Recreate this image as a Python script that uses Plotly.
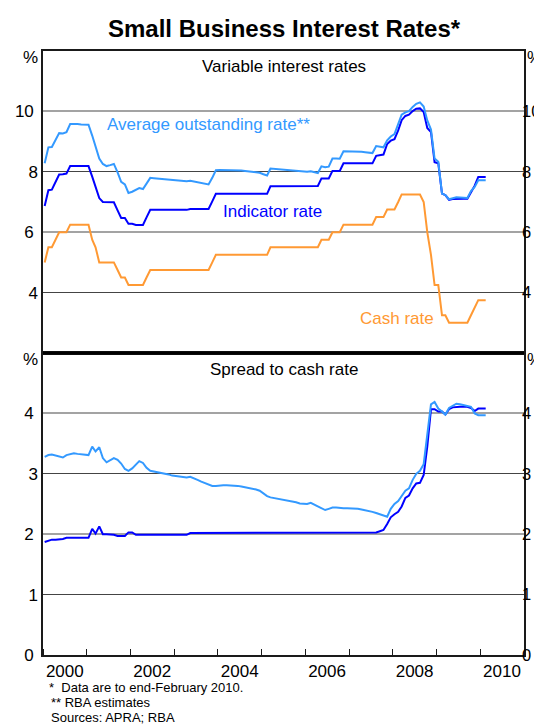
import pandas as pd
import plotly.graph_objects as go

# ---------------- data (monthly, Jan 2000 - Feb 2010) ----------------
month_start = "2000-01-01"
n_months = 122

cash_rate = [
    5.00, 5.50, 5.50, 5.75, 6.00, 6.00, 6.00, 6.25, 6.25, 6.25, 6.25, 6.25,   # 2000
    6.25, 5.75, 5.50, 5.00, 5.00, 5.00, 5.00, 5.00, 4.75, 4.50, 4.50, 4.25,   # 2001
    4.25, 4.25, 4.25, 4.25, 4.50, 4.75, 4.75, 4.75, 4.75, 4.75, 4.75, 4.75,   # 2002
    4.75, 4.75, 4.75, 4.75, 4.75, 4.75, 4.75, 4.75, 4.75, 4.75, 5.00, 5.25,   # 2003
    5.25, 5.25, 5.25, 5.25, 5.25, 5.25, 5.25, 5.25, 5.25, 5.25, 5.25, 5.25,   # 2004
    5.25, 5.25, 5.50, 5.50, 5.50, 5.50, 5.50, 5.50, 5.50, 5.50, 5.50, 5.50,   # 2005
    5.50, 5.50, 5.50, 5.50, 5.75, 5.75, 5.75, 6.00, 6.00, 6.00, 6.25, 6.25,   # 2006
    6.25, 6.25, 6.25, 6.25, 6.25, 6.25, 6.25, 6.50, 6.50, 6.50, 6.75, 6.75,   # 2007
    6.75, 7.00, 7.25, 7.25, 7.25, 7.25, 7.25, 7.25, 7.00, 6.00, 5.25, 4.25,   # 2008
    4.25, 3.25, 3.25, 3.00, 3.00, 3.00, 3.00, 3.00, 3.00, 3.25, 3.50, 3.75,   # 2009
    3.75, 3.75,                                                               # 2010
]

average_outstanding_rate = [
    8.28, 8.81, 8.82, 9.05, 9.28, 9.27, 9.31, 9.58, 9.59, 9.58, 9.57, 9.56,
    9.56, 9.20, 8.87, 8.44, 8.26, 8.19, 8.22, 8.26, 7.98, 7.67, 7.58, 7.30,
    7.34, 7.40, 7.46, 7.43, 7.60, 7.80, 7.79, 7.78, 7.77, 7.76, 7.74, 7.72,
    7.71, 7.70, 7.69, 7.69, 7.70, 7.68, 7.65, 7.62, 7.60, 7.58, 7.80, 8.05,
    8.06, 8.06, 8.06, 8.06, 8.05, 8.05, 8.04, 8.03, 8.02, 8.00, 7.99, 7.97,
    7.92, 7.88, 8.11, 8.10, 8.09, 8.08, 8.07, 8.06, 8.05, 8.03, 8.01, 8.00,
    8.00, 8.02, 7.99, 7.96, 8.18, 8.15, 8.17, 8.44, 8.44, 8.43, 8.68, 8.68,
    8.68, 8.67, 8.67, 8.66, 8.65, 8.64, 8.62, 8.85, 8.83, 8.81, 9.04, 9.17,
    9.25, 9.55, 9.89, 9.97, 10.01, 10.15, 10.25, 10.30, 10.16, 9.70, 9.40, 8.44,
    8.33, 7.28, 7.23, 7.09, 7.13, 7.16, 7.15, 7.14, 7.13, 7.36, 7.50, 7.72,
    7.72, 7.72,
]

indicator_rate = [
    6.87, 7.39, 7.41, 7.66, 7.91, 7.92, 7.94, 8.19, 8.19, 8.19, 8.19, 8.19,
    8.19, 7.84, 7.51, 7.13, 7.00, 7.00, 7.00, 6.99, 6.72, 6.47, 6.47, 6.28,
    6.28, 6.24, 6.24, 6.24, 6.49, 6.74, 6.74, 6.74, 6.74, 6.74, 6.74, 6.74,
    6.74, 6.74, 6.74, 6.74, 6.77, 6.77, 6.77, 6.77, 6.77, 6.77, 7.02, 7.27,
    7.27, 7.27, 7.27, 7.27, 7.27, 7.27, 7.27, 7.27, 7.27, 7.27, 7.27, 7.27,
    7.27, 7.27, 7.52, 7.52, 7.52, 7.52, 7.52, 7.52, 7.52, 7.52, 7.52, 7.52,
    7.52, 7.53, 7.53, 7.53, 7.78, 7.78, 7.78, 8.03, 8.03, 8.03, 8.28, 8.28,
    8.28, 8.28, 8.28, 8.28, 8.28, 8.28, 8.28, 8.53, 8.55, 8.57, 8.92, 9.03,
    9.08, 9.37, 9.71, 9.85, 9.89, 10.01, 10.09, 10.10, 9.98, 9.45, 9.32, 8.32,
    8.28, 7.28, 7.23, 7.07, 7.10, 7.11, 7.11, 7.11, 7.11, 7.34, 7.54, 7.83,
    7.83, 7.83,
]

average_spread = [
    3.28, 3.31, 3.32, 3.30, 3.28, 3.27, 3.31, 3.33, 3.34, 3.33, 3.32, 3.31,
    3.31, 3.45, 3.37, 3.44, 3.26, 3.19, 3.22, 3.26, 3.23, 3.17, 3.08, 3.05,
    3.09, 3.15, 3.21, 3.18, 3.10, 3.05, 3.04, 3.03, 3.02, 3.01, 2.99, 2.97,
    2.96, 2.95, 2.94, 2.94, 2.95, 2.93, 2.90, 2.87, 2.85, 2.83, 2.80, 2.80,
    2.81, 2.81, 2.81, 2.81, 2.80, 2.80, 2.79, 2.78, 2.77, 2.75, 2.74, 2.72,
    2.67, 2.63, 2.61, 2.60, 2.59, 2.58, 2.57, 2.56, 2.55, 2.53, 2.51, 2.50,
    2.50, 2.52, 2.49, 2.46, 2.43, 2.40, 2.42, 2.44, 2.44, 2.43, 2.43, 2.43,
    2.43, 2.42, 2.42, 2.41, 2.40, 2.39, 2.37, 2.35, 2.33, 2.31, 2.29, 2.42,
    2.50, 2.55, 2.64, 2.72, 2.76, 2.90, 3.00, 3.05, 3.16, 3.70, 4.15, 4.19,
    4.08, 4.03, 3.98, 4.09, 4.13, 4.16, 4.15, 4.14, 4.13, 4.11, 4.00, 3.97,
    3.97, 3.97,
]

indicator_spread = [
    1.87, 1.89, 1.91, 1.91, 1.91, 1.92, 1.94, 1.94, 1.94, 1.94, 1.94, 1.94,
    1.94, 2.09, 2.01, 2.13, 2.00, 2.00, 2.00, 1.99, 1.97, 1.97, 1.97, 2.03,
    2.03, 1.99, 1.99, 1.99, 1.99, 1.99, 1.99, 1.99, 1.99, 1.99, 1.99, 1.99,
    1.99, 1.99, 1.99, 1.99, 2.02, 2.02, 2.02, 2.02, 2.02, 2.02, 2.02, 2.02,
    2.02, 2.02, 2.02, 2.02, 2.02, 2.02, 2.02, 2.02, 2.02, 2.02, 2.02, 2.02,
    2.02, 2.02, 2.02, 2.02, 2.02, 2.02, 2.02, 2.02, 2.02, 2.02, 2.02, 2.02,
    2.02, 2.03, 2.03, 2.03, 2.03, 2.03, 2.03, 2.03, 2.03, 2.03, 2.03, 2.03,
    2.03, 2.03, 2.03, 2.03, 2.03, 2.03, 2.03, 2.03, 2.05, 2.07, 2.17, 2.28,
    2.33, 2.37, 2.46, 2.60, 2.64, 2.76, 2.84, 2.85, 2.98, 3.45, 4.07, 4.07,
    4.03, 4.03, 3.98, 4.07, 4.10, 4.11, 4.11, 4.11, 4.11, 4.09, 4.04, 4.08,
    4.08, 4.08,
]

x_tick_years = ["2000", "2002", "2004", "2006", "2008", "2010"]
top_ticks = [4, 6, 8, 10]
bottom_ticks = [0, 1, 2, 3, 4]

# ---------------- styling ----------------
FONT = "Liberation Sans, Arial, sans-serif"
C_AVG = "#3399FF"
C_IND = "#0000FF"
C_CASH = "#FF9933"
FRAME = "#1a1a1a"
GRID_LIGHT = "#a3a3a3"
GRID_DARK = "#444444"
CLEAR = "rgba(0,0,0,0)"

months = pd.date_range(month_start, periods=n_months, freq="MS") + pd.Timedelta(days=14)
x_tick_vals = [f"{y}-07-01" for y in x_tick_years]

fig = go.Figure()

def line(y, xa, ya, color):
    fig.add_trace(go.Scatter(x=months, y=y, mode="lines", xaxis=xa, yaxis=ya,
                             line=dict(color=color, width=2), hoverinfo="skip"))

# top panel
line(cash_rate, "x2", "y4", C_CASH)
line(indicator_rate, "x2", "y4", C_IND)
line(average_outstanding_rate, "x2", "y4", C_AVG)
# bottom panel
line(indicator_spread, "x", "y", C_IND)
line(average_spread, "x", "y", C_AVG)
# invisible carriers so that the overlay (grid / right-hand label) axes are drawn
line(cash_rate, "x2", "y5", CLEAR)
line(cash_rate, "x2", "y6", CLEAR)
line(indicator_spread, "x", "y2", CLEAR)
line(indicator_spread, "x", "y3", CLEAR)

tickfont = dict(family=FONT, size=17, color="black")
tickfont_r = dict(family=FONT, size=16.5, color="black")

def yax(**kw):
    base = dict(ticks="", zeroline=False, tickfont=tickfont, fixedrange=True,
                automargin=False, ticklabelstandoff=4)
    base.update(kw)
    return base

fig.update_layout(
    width=542, height=724,
    margin=dict(l=35, r=26, t=43, b=77, autoexpand=False),
    paper_bgcolor="white", plot_bgcolor="white",
    showlegend=False,
    font=dict(family=FONT, size=17, color="black"),
    xaxis=dict(domain=[0, 1], anchor="y", range=["2000-01-01", "2011-01-01"],
               tickvals=x_tick_vals, ticktext=x_tick_years, ticks="",
               showgrid=False, zeroline=False, showline=True, mirror=True,
               linecolor=FRAME, linewidth=1.6, tickfont=tickfont, automargin=False,
               minor=dict(dtick="M12", tick0="2000-01-01", ticks="inside",
                          ticklen=6, tickwidth=1, tickcolor=FRAME, showgrid=False)),
    xaxis2=dict(domain=[0, 1], anchor="y4", matches="x", showticklabels=False, ticks="",
                showgrid=False, zeroline=False, showline=True, mirror=True,
                linecolor=FRAME, linewidth=1.6, automargin=False),
    # bottom panel axes
    yaxis=yax(domain=[0, 0.5], anchor="x", range=[0, 5], tickvals=[0, 2, 4],
              showgrid=True, gridcolor=GRID_LIGHT, gridwidth=2,
              showline=True, mirror=True, linecolor=FRAME, linewidth=1.6),
    yaxis2=yax(overlaying="y", anchor="x", side="left", range=[0, 5], tickvals=[1, 3],
               showgrid=True, gridcolor=GRID_DARK, gridwidth=1, showline=False),
    yaxis3=yax(overlaying="y", anchor="free", position=0.994, side="right", range=[0, 5],
               tickvals=bottom_ticks, showgrid=False, showline=False, ticklabelstandoff=0,
               tickfont=tickfont_r),
    # top panel axes
    yaxis4=yax(domain=[0.5, 1], anchor="x2", range=[2, 12], tickvals=[6, 10],
               showgrid=True, gridcolor=GRID_LIGHT, gridwidth=2,
               showline=True, mirror=True, linecolor=FRAME, linewidth=1.6),
    yaxis5=yax(overlaying="y4", anchor="x2", side="left", range=[2, 12], tickvals=[4, 8],
               showgrid=True, gridcolor=GRID_DARK, gridwidth=1, showline=False),
    yaxis6=yax(overlaying="y4", anchor="free", position=0.994, side="right", range=[2, 12],
               tickvals=top_ticks, showgrid=False, showline=False, ticklabelstandoff=0,
               tickfont=tickfont_r),
)

fig.add_shape(type="line", xref="paper", yref="paper", x0=0, x1=1, y0=0.5, y1=0.5,
              line=dict(color="black", width=3))

def note(text, x, y, size=17, color="black", xanchor="center", bold=False, xref="paper", yref="paper"):
    fig.add_annotation(text=f"<b>{text}</b>" if bold else text, x=x, y=y, xref=xref, yref=yref,
                       xanchor=xanchor, yanchor="middle", showarrow=False,
                       font=dict(family=FONT, size=size, color=color))

note("Small Business Interest Rates*", 0.503, 1.0376, size=24, bold=True)
note("Variable interest rates", 0.5, 0.9750)
note("Spread to cash rate", 0.5, 0.4730)
note("%", -0.0254, 0.9900)
note("%", 1.021, 0.9900)
note("%", -0.0254, 0.4885)
note("%", 1.021, 0.4885)
note("Average outstanding rate**", "2001-06-03", 9.55, color=C_AVG, xanchor="left", xref="x2", yref="y4")
note("Indicator rate", "2004-01-25", 6.69, color=C_IND, xanchor="left", xref="x2", yref="y4")
note("Cash rate", "2007-03-17", 3.15, color=C_CASH, xanchor="left", xref="x2", yref="y4")
note("*\u00a0\u00a0Data are to end-February 2010.", 0.0089, -0.0530, size=13, xanchor="left")
note("** RBA estimates", 0.0125, -0.0786, size=13, xanchor="left")
note("Sources: APRA; RBA", 0.0125, -0.1034, size=13, xanchor="left")

fig.write_html("out.html")
